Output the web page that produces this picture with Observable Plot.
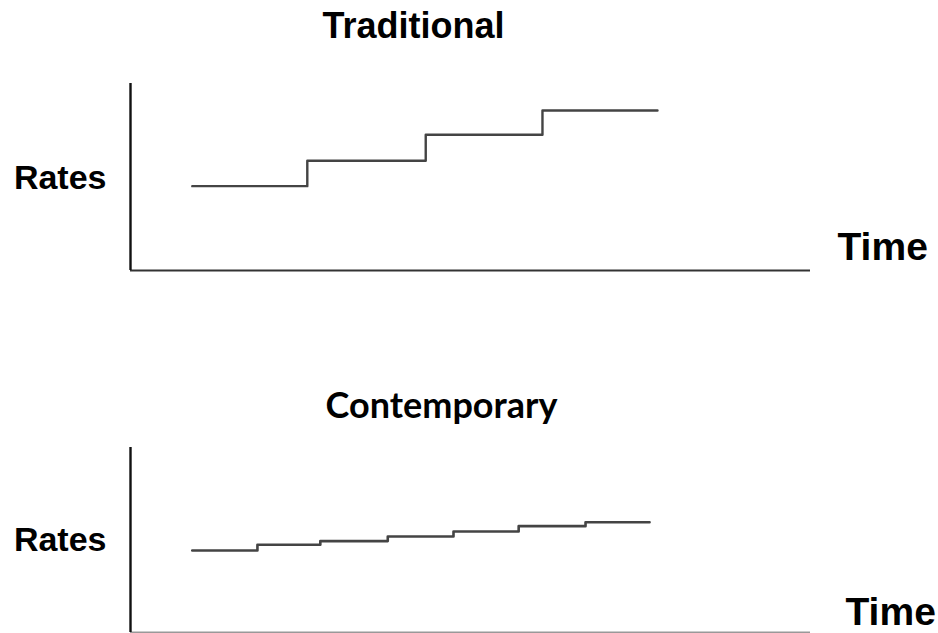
<!DOCTYPE html>
<html>
<head>
<meta charset="utf-8">
<script src="https://cdn.jsdelivr.net/npm/d3@7"></script>
<script src="https://cdn.jsdelivr.net/npm/@observablehq/plot@0.6"></script>
<style>
  html, body { margin: 0; padding: 0; background: #fff; }
  #chart { width: 938px; }
  #chart svg { display: block; }
</style>
</head>
<body>
<div id="chart"></div>
<script>
// Panel titles and axis labels
const titles = ["Traditional", "Contemporary"];
const yLabel = "Rates";
const xLabel = "Time";

// Traditional: few large step increases (time of each change, rate level)
const tradTime = [1.09, 3.12, 5.21, 7.27, 9.3];
const tradRate = [4.51, 5.87, 7.26, 8.56, 8.56];

// Contemporary: many small step increases
const contTime = [1.09, 2.24, 3.35, 4.54, 5.7, 6.85, 8.03, 9.16];
const contRate = [4.43, 4.74, 4.94, 5.19, 5.46, 5.75, 5.96, 5.96];

const trad = tradTime.map((t, i) => ({time: t, rate: tradRate[i]}));
const cont = contTime.map((t, i) => ({time: t, rate: contRate[i]}));

const labelFont = "'Liberation Sans', Arial, sans-serif";

function panel({data, title, height, marginTop, marginBottom, titleFont, titleSize, titleDx, titleDy,
                lineWidth, xAxisColor, timeDx, timeDy, ratesDy}) {
  return Plot.plot({
    width: 938,
    height,
    marginLeft: 130,
    marginRight: 128,
    marginTop,
    marginBottom,
    x: {domain: [0, 12], axis: null},
    y: {domain: [0, 10], axis: null},
    marks: [
      Plot.ruleY([0], {stroke: xAxisColor, strokeWidth: 2.2}),
      Plot.ruleX([0], {stroke: "#111", strokeWidth: 2.4}),
      Plot.lineY(data, {x: "time", y: "rate", curve: "step-after", stroke: "#444", strokeWidth: lineWidth}),
      Plot.text([title], {frameAnchor: "top", textAnchor: "middle", lineAnchor: "bottom",
        dx: titleDx, dy: titleDy, fontFamily: titleFont, fontWeight: "bold", fontSize: titleSize, fill: "#000"}),
      Plot.text([yLabel], {frameAnchor: "left", textAnchor: "end", lineAnchor: "middle",
        dx: -24, dy: ratesDy, fontFamily: labelFont, fontWeight: "bold", fontSize: 34, fill: "#000"}),
      Plot.text([xLabel], {frameAnchor: "bottom-right", textAnchor: "start", lineAnchor: "bottom",
        dx: timeDx, dy: timeDy, fontFamily: labelFont, fontWeight: "bold", fontSize: 39, fill: "#000"})
    ]
  });
}

const topPanel = panel({
  data: trad, title: titles[0], height: 300, marginTop: 83, marginBottom: 30,
  titleFont: labelFont, titleSize: 36, titleDx: -57, titleDy: -46,
  lineWidth: 2.4, xAxisColor: "#333", timeDx: 27, timeDy: -11, ratesDy: 1
});
const bottomPanel = panel({
  data: cont, title: titles[1], height: 333, marginTop: 147, marginBottom: 1,
  titleFont: "Lato, 'Open Sans', sans-serif", titleSize: 36, titleDx: -29, titleDy: -30,
  lineWidth: 2.6, xAxisColor: "#999", timeDx: 35, timeDy: -8, ratesDy: 0
});

document.getElementById("chart").append(topPanel, bottomPanel);
</script>
</body>
</html>
